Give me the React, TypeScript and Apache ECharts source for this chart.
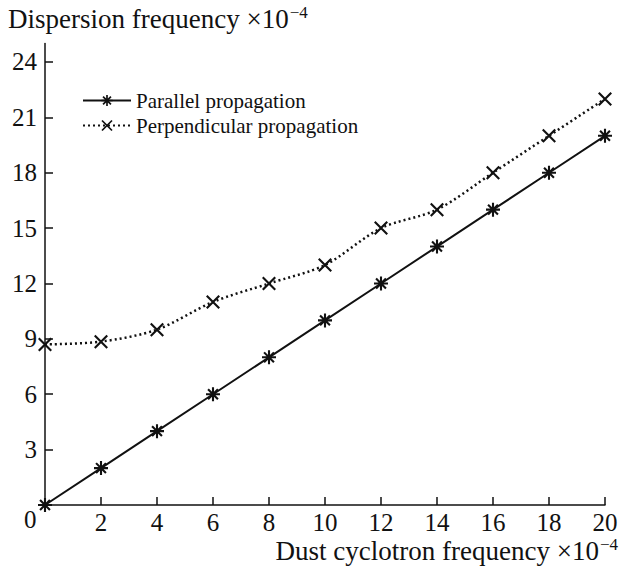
import React, { useEffect, useRef } from "react";
import * as echarts from "echarts";

const xValues = [0, 2, 4, 6, 8, 10, 12, 14, 16, 18, 20];
const parallelValues = [0, 2, 4, 6, 8, 10, 12, 14, 16, 18, 20];
const perpendicularValues = [8.7, 8.85, 9.5, 11, 12, 13, 15, 16, 18, 20, 22];
const xTickValues = [2, 4, 6, 8, 10, 12, 14, 16, 18, 20];
const yTickValues = [3, 6, 9, 12, 15, 18, 21, 24];
const seriesNames = ["Parallel propagation", "Perpendicular propagation"];

const FONT = "Liberation Serif";

function armsPath(angles: number[], len: number, half: number): string {
  let d = "";
  for (const a of angles) {
    const r = (a * Math.PI) / 180;
    const c = Math.cos(r), s = Math.sin(r);
    const pts = [
      [-len, -half],
      [len, -half],
      [len, half],
      [-len, half],
    ].map(([x, y]) => [x * c - y * s, x * s + y * c]);
    d += `M${pts[0][0].toFixed(3)} ${pts[0][1].toFixed(3)}`;
    for (let i = 1; i < 4; i++) d += `L${pts[i][0].toFixed(3)} ${pts[i][1].toFixed(3)}`;
    d += "Z";
  }
  return d;
}

const asteriskSymbol = "path://" + armsPath([0, 45, 90, 135], 10, 1.5);
const crossSymbol = "path://" + armsPath([45, 135], 10, 1.2);

export default function App() {
  const ref = useRef<HTMLDivElement>(null);
  useEffect(() => {
    if (!ref.current) return;
    const chart = echarts.init(ref.current, null, { renderer: "svg" });
    const pairs = (ys: number[]) => xValues.map((x, i) => [x, ys[i]]);
    chart.setOption({
      animation: false,
      backgroundColor: "#ffffff",
      textStyle: { fontFamily: FONT },
      grid: { left: 45, right: 24, top: 43.5, bottom: 63, containLabel: false },
      legend: {
        left: 77,
        top: 85,
        orient: "vertical",
        itemWidth: 48,
        itemHeight: 14,
        itemGap: 4,
        data: seriesNames,
        textStyle: { fontFamily: FONT, fontSize: 21, color: "#111" },
      },
      xAxis: {
        type: "value",
        min: 0,
        max: 20,
        interval: 2,
        axisLine: { lineStyle: { color: "#111", width: 1.5 } },
        axisTick: { inside: true, length: 8, customValues: xTickValues, lineStyle: { color: "#111", width: 1.5 } },
        axisLabel: { customValues: xTickValues, fontFamily: FONT, fontSize: 25, color: "#111", margin: 5 },
        splitLine: { show: false },
      },
      yAxis: {
        type: "value",
        min: 0,
        max: 25,
        interval: 3,
        axisLine: { show: true, lineStyle: { color: "#111", width: 1.5 } },
        axisTick: { show: true, inside: true, length: 8, customValues: yTickValues, lineStyle: { color: "#111", width: 1.5 } },
        axisLabel: { customValues: yTickValues, fontFamily: FONT, fontSize: 25, color: "#111", margin: 8 },
        splitLine: { show: false },
      },
      graphic: [
        {
          type: "text",
          left: 8,
          top: 4,
          style: {
            text: "{a|Dispersion frequency ×10}{s|−4}",
            rich: {
              a: { fontFamily: FONT, fontSize: 27, fill: "#111" },
              s: { fontFamily: FONT, fontSize: 17, fill: "#111", padding: [0, 0, 12, 1] },
            },
          },
        },
        {
          type: "text",
          right: 11,
          top: 536,
          style: {
            text: "{a|Dust cyclotron frequency ×10}{s|−4}",
            rich: {
              a: { fontFamily: FONT, fontSize: 27, fill: "#111" },
              s: { fontFamily: FONT, fontSize: 17, fill: "#111", padding: [0, 0, 12, 1] },
            },
          },
        },
        {
          type: "text",
          left: 24,
          top: 507,
          style: { text: "0", fontFamily: FONT, fontSize: 25, fill: "#111" },
        },
      ],
      series: [
        {
          name: seriesNames[0],
          type: "line",
          data: pairs(parallelValues),
          symbol: asteriskSymbol,
          symbolSize: 14,
          symbolKeepAspect: true,
          itemStyle: { color: "#111" },
          lineStyle: { color: "#111", width: 2, type: "solid" },
        },
        {
          name: seriesNames[1],
          type: "line",
          data: pairs(perpendicularValues),
          smooth: 0.3,
          symbol: crossSymbol,
          symbolSize: 14,
          symbolKeepAspect: true,
          itemStyle: { color: "#111" },
          lineStyle: { color: "#111", width: 2.5, type: [2, 3] },
        },
      ],
    });
    return () => chart.dispose();
  }, []);
  return (
    <div
      ref={ref}
      style={{ position: "absolute", left: 0, top: 0, width: 629, height: 568 }}
    />
  );
}
